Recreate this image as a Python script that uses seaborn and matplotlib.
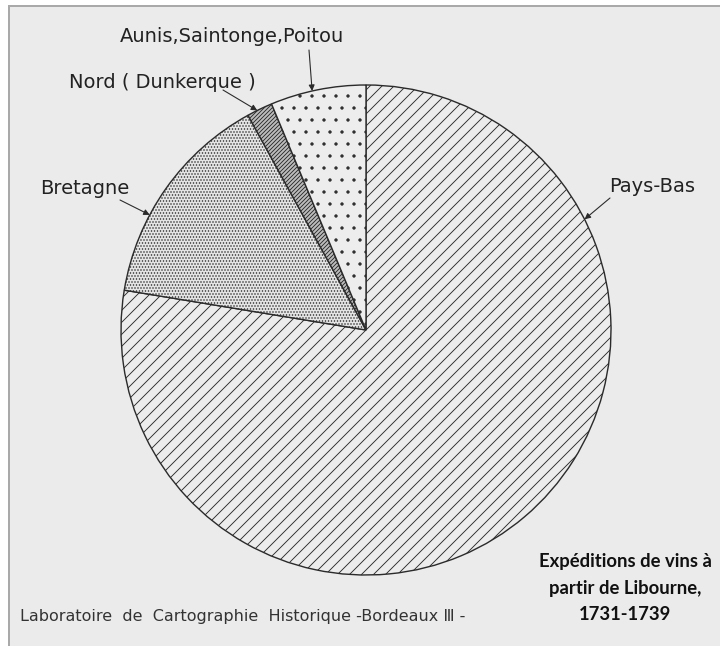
import matplotlib
matplotlib.use("Agg")
import matplotlib.pyplot as plt
from matplotlib.patches import Rectangle
import numpy as np
import seaborn as sns

# Wine shipments from Libourne by destination, 1731-1739 (share, %)
regions = ["Pays-Bas", "Bretagne", "Nord ( Dunkerque )", "Aunis,Saintonge,Poitou"]
shares = [77.6, 14.4, 1.7, 6.3]
hatches = ["//", "....", "//////", "."]
faces = ["#ececec", "#e4e4e4", "#bdbdbd", "#ededed"]

title_lines = ["Expéditions de vins à", "partir de Libourne,", "1731-1739"]
credit = "Laboratoire  de  Cartographie  Historique -Bordeaux Ⅲ -"

sns.set_theme(style="white")
plt.rcParams["font.family"] = ["DejaVu Sans"]
plt.rcParams["hatch.linewidth"] = 0.9

W, H = 720, 646
DPI = 72
fig = plt.figure(figsize=(W / DPI, H / DPI), dpi=DPI, facecolor="white")


def fpos(x, y):
    """Pixel position measured from the top-left corner -> figure fraction."""
    return (x / W, 1 - y / H)


# paper sheet with a thin grey frame
fig.patches.append(Rectangle(fpos(9, H + 5), (W - 5) / W, (H - 1) / H,
                             transform=fig.transFigure, facecolor="#ebebeb",
                             edgecolor="#a9a9a9", linewidth=2, zorder=-5))

cx, cy, r = 366, 330, 245
ax = fig.add_axes([(cx - r) / W, 1 - (cy + r) / H, 2 * r / W, 2 * r / H])
ax.set_facecolor("none")
ax.set_zorder(2)

wedges, _ = ax.pie(shares, startangle=90, counterclock=False, radius=1,
                   colors=faces,
                   wedgeprops=dict(edgecolor="#2b2b2b", linewidth=1.4))
for w, h in zip(wedges, hatches):
    w.set_hatch(h)
ax.set_xlim(-1, 1)
ax.set_ylim(-1, 1)
ax.set_aspect("equal")
ax.axis("off")

# label placement: text centre (px), arrow tail (px), position inside the wedge
label_pos = {
    "Pays-Bas": ((652, 187), (610, 198), 0.226),
    "Bretagne": ((85, 188), (120, 200), 0.36),
    "Nord ( Dunkerque )": ((162, 82), (223, 90), 0.4),
    "Aunis,Saintonge,Poitou": ((232, 36), (309, 50), 0.44),
}

cum = np.concatenate([[0], np.cumsum(shares)]) / np.sum(shares)
for i, name in enumerate(regions):
    (tx, ty), (ax0, ay0), frac = label_pos[name]
    a0 = 90 - 360 * cum[i]
    a1 = 90 - 360 * cum[i + 1]
    ang = np.deg2rad(a0 + (a1 - a0) * frac)
    fig.text(*fpos(tx, ty), name, ha="center", va="center", fontsize=19.5,
             color="#222222")
    ax.annotate("", xy=(np.cos(ang), np.sin(ang)), xycoords="data",
                xytext=fpos(ax0, ay0), textcoords="figure fraction",
                annotation_clip=False,
                arrowprops=dict(arrowstyle="-|>", color="#2b2b2b", lw=1.1,
                                mutation_scale=12, shrinkA=0, shrinkB=0))

for k, line in enumerate(title_lines):
    fig.text(*fpos(625, 562 + 26.5 * k), line, ha="center", va="center",
             fontsize=18.5, fontweight="bold", family=["Lato", "DejaVu Sans"],
             color="#111111")

fig.text(*fpos(20, 617), credit, ha="left", va="center", fontsize=16,
         color="#333333")

fig.savefig("out.png", dpi=DPI, facecolor="white")
